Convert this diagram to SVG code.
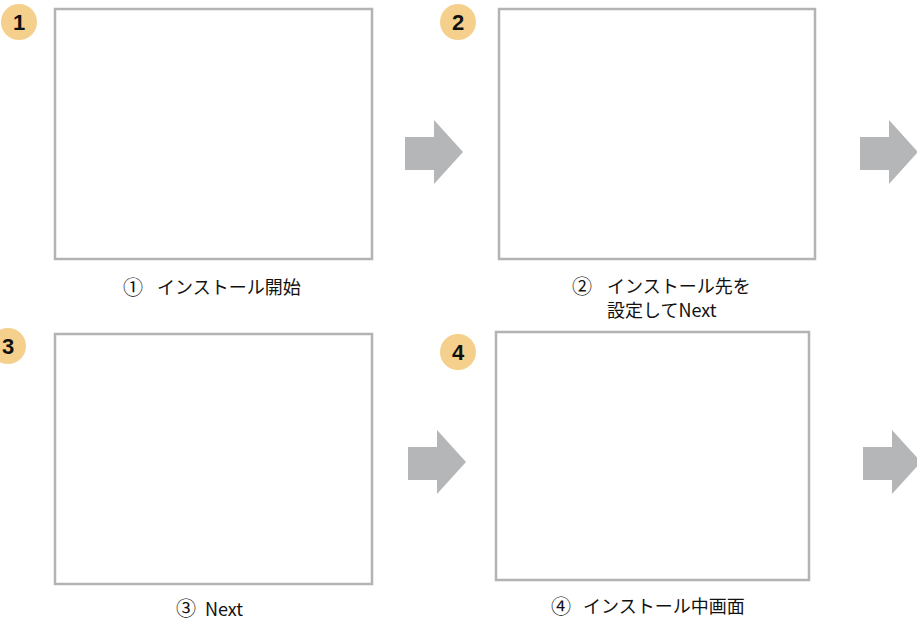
<svg xmlns="http://www.w3.org/2000/svg" width="917" height="622" viewBox="0 0 917 622">
<style>
.frame{fill:#fff;stroke:#b3b3b3;stroke-width:2.5}
.badge{fill:#f4d08c}
.num{font-family:"Liberation Sans",Arial,sans-serif;font-weight:bold;font-size:22px;fill:#111;text-anchor:middle}
.lbl{font-family:"Noto Sans CJK JP","Noto Sans",sans-serif;font-size:18px;fill:#111}
.cn{font-family:"Noto Sans CJK JP","Noto Sans",sans-serif;font-size:20px;fill:#111}
.arrow{fill:#b5b6b8}
</style>
<defs>
<path id="arr" d="M0,17 H29 V0 L58,32 L29,64 V50 H0 Z"/>
</defs>
<rect width="917" height="622" fill="#fff"/>
<g id="step1">
<rect class="frame" x="55" y="9" width="317" height="250"/>
<circle class="badge" cx="19" cy="22" r="18"/>
<text class="num" x="19" y="30">1</text>
<text class="cn" x="123" y="295">①</text>
<text class="lbl" x="157" y="294">インストール開始</text>
</g>
<g id="step2">
<rect class="frame" x="499" y="9" width="316" height="250"/>
<circle class="badge" cx="458" cy="22" r="18"/>
<text class="num" x="458" y="30">2</text>
<text class="cn" x="572" y="294">②</text>
<text class="lbl" x="607" y="293">インストール先を</text>
<text class="lbl" x="607" y="317">設定してNext</text>
</g>
<g id="step3">
<rect class="frame" x="55" y="334" width="317" height="250"/>
<circle class="badge" cx="8" cy="346" r="18"/>
<text class="num" x="8" y="354">3</text>
<text class="cn" x="176" y="616">③</text>
<text class="lbl" x="205" y="616">Next</text>
</g>
<g id="step4">
<rect class="frame" x="496" y="332" width="313" height="248"/>
<circle class="badge" cx="458" cy="352" r="18"/>
<text class="num" x="458" y="360">4</text>
<text class="cn" x="551" y="614">④</text>
<text class="lbl" x="583" y="613">インストール中画面</text>
</g>
<g id="connectors">
<use href="#arr" class="arrow" x="405" y="120"/>
<use href="#arr" class="arrow" x="860" y="120"/>
<use href="#arr" class="arrow" x="408" y="430"/>
<use href="#arr" class="arrow" x="863" y="430"/>
</g>
</svg>
